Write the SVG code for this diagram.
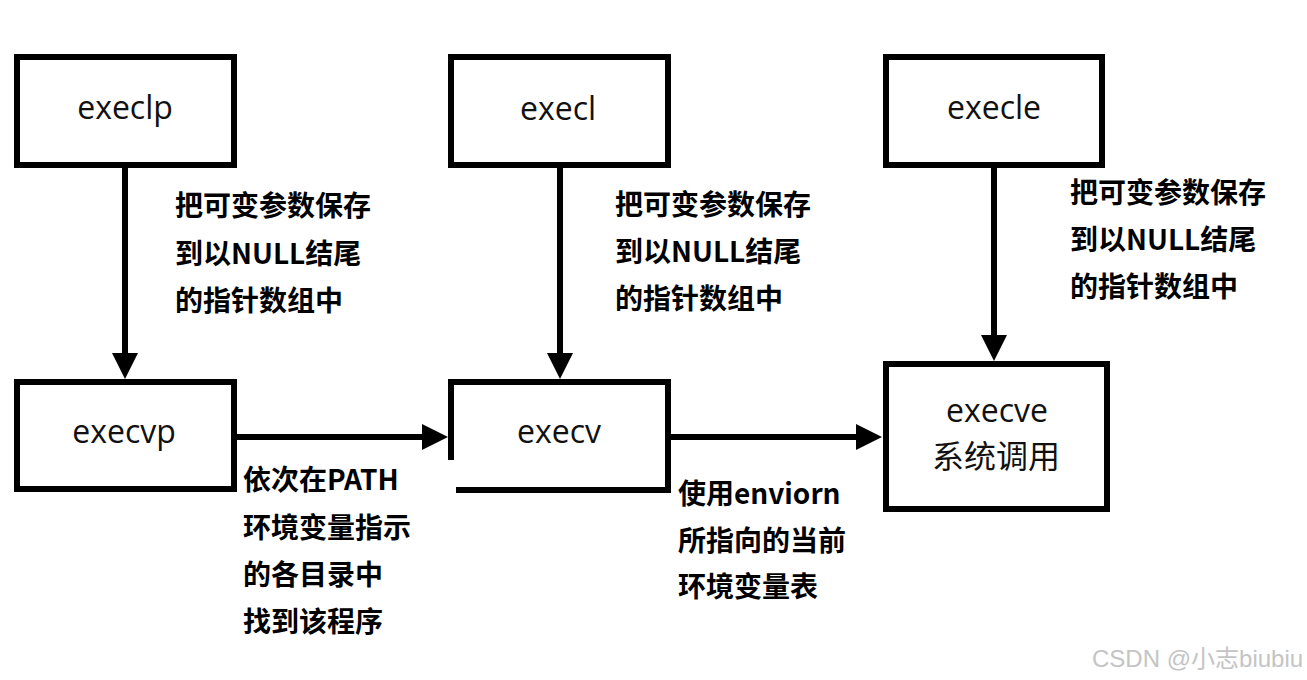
<svg xmlns="http://www.w3.org/2000/svg" width="1307" height="680" viewBox="0 0 1307 680">
<style>
.box{fill:none;stroke:#000;stroke-width:6;stroke-linejoin:miter}
.lbl{font-family:"Open Sans","Noto Sans",sans-serif;font-size:32px;fill:#111;text-anchor:middle}
.cjk{font-family:"Noto Sans CJK SC",sans-serif;font-size:32px;fill:#111;text-anchor:middle}
.note{font-family:"Noto Sans CJK SC",sans-serif;font-size:28px;font-weight:bold;fill:#000}
.line{stroke:#000;stroke-width:6;fill:none}
.head{fill:#000}
.wm{font-family:"Liberation Sans","Noto Sans CJK SC",sans-serif;font-size:24px;fill:#c4c4c4}
</style>
<rect width="1307" height="680" fill="#fff"/>
<g id="connectors">
<line class="line" x1="125" y1="168" x2="125" y2="355"/>
<polygon class="head" points="112,353 138,353 125,379"/>
<line class="line" x1="560" y1="168" x2="560" y2="355"/>
<polygon class="head" points="547,353 573,353 560,379"/>
<line class="line" x1="994" y1="168" x2="994" y2="337"/>
<polygon class="head" points="981,335 1007,335 994,361"/>
<line class="line" x1="237" y1="437" x2="424" y2="437"/>
<polygon class="head" points="422,424 422,450 448,437"/>
<line class="line" x1="671" y1="437" x2="858" y2="437"/>
<polygon class="head" points="856,424 856,450 882,437"/>
</g>
<g id="execlp">
<rect class="box" x="17" y="57" width="217" height="108"/>
<text class="lbl" x="125" y="119">execlp</text>
</g>
<g id="execl">
<rect class="box" x="451" y="57" width="217" height="108"/>
<text class="lbl" x="558" y="120">execl</text>
</g>
<g id="execle">
<rect class="box" x="886" y="57" width="216" height="108"/>
<text class="lbl" x="994" y="119">execle</text>
</g>
<g id="execvp">
<rect class="box" x="17" y="382" width="217" height="107"/>
<text class="lbl" x="124" y="443">execvp</text>
</g>
<g id="execv">
<path class="box" d="M456 490 H668 V382 H451 V460"/>
<text class="lbl" x="559" y="443">execv</text>
</g>
<g id="execve">
<rect class="box" x="886" y="364" width="221" height="145"/>
<text class="lbl" x="997" y="422">execve</text>
<text class="cjk" x="996" y="468">系统调用</text>
</g>
<g id="note-execlp">
<text class="note" x="175" y="216">把可变参数保存</text>
<text class="note" x="175" y="264">到以NULL结尾</text>
<text class="note" x="175" y="311">的指针数组中</text>
</g>
<g id="note-execl">
<text class="note" x="615" y="215">把可变参数保存</text>
<text class="note" x="615" y="262">到以NULL结尾</text>
<text class="note" x="615" y="309">的指针数组中</text>
</g>
<g id="note-execle">
<text class="note" x="1070" y="203">把可变参数保存</text>
<text class="note" x="1070" y="250">到以NULL结尾</text>
<text class="note" x="1070" y="297">的指针数组中</text>
</g>
<g id="note-execvp">
<text class="note" x="243" y="490">依次在PATH</text>
<text class="note" x="243" y="538">环境变量指示</text>
<text class="note" x="243" y="585">的各目录中</text>
<text class="note" x="243" y="632">找到该程序</text>
</g>
<g id="note-execv">
<text class="note" x="678" y="504">使用enviorn</text>
<text class="note" x="678" y="551">所指向的当前</text>
<text class="note" x="678" y="597">环境变量表</text>
</g>
<text class="wm" x="1092" y="667">CSDN @小志biubiu</text>
</svg>
